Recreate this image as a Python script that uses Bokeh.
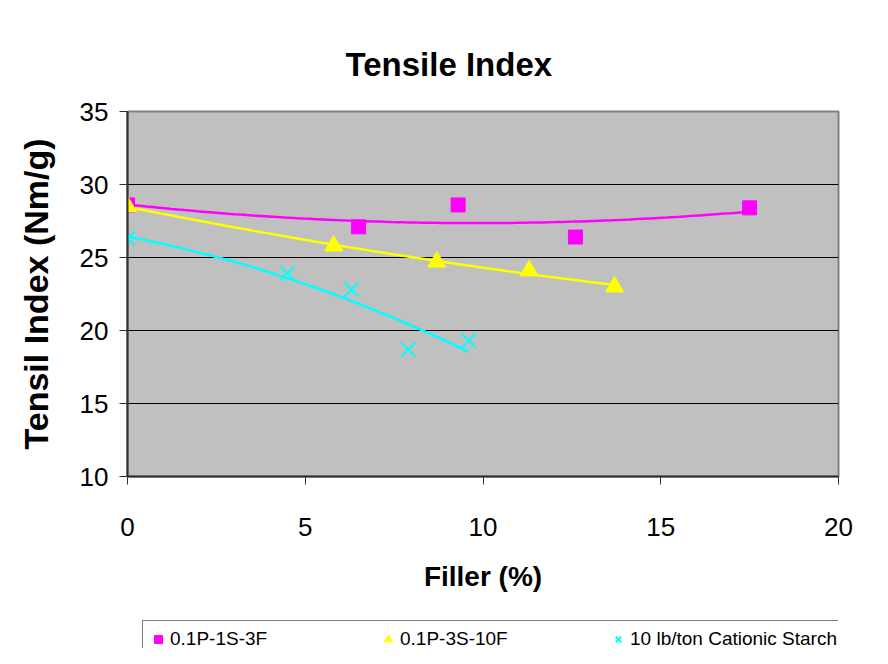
import numpy as np
from bokeh.plotting import figure
from bokeh.layouts import column
from bokeh.models import Legend, LegendItem, FixedTicker, Range1d
from bokeh.embed import file_html
from bokeh.resources import INLINE

# ---- data ----
s1_name = "0.1P-1S-3F"
s1_x = [0.0, 6.5, 9.3, 12.6, 17.5]
s1_y = [28.6, 27.1, 28.6, 26.4, 28.4]

s2_name = "0.1P-3S-10F"
s2_x = [0.0, 5.8, 8.7, 11.3, 13.7]
s2_y = [28.5, 25.8, 24.7, 24.1, 23.0]

s3_name = "10 lb/ton Cationic Starch"
s3_x = [0.0, 4.5, 6.3, 7.9, 9.6]
s3_y = [26.3, 23.9, 22.8, 18.7, 19.3]

x_ticks = [0, 5, 10, 15, 20]
y_ticks = [10, 15, 20, 25, 30, 35]

colors = ["#FF00FF", "#FFFF00", "#00FFFF"]
FONT = "'Liberation Sans', Arial, sans-serif"

p = figure(width=872, height=608, output_backend="svg", toolbar_location=None,
           x_range=Range1d(0, 20), y_range=Range1d(10, 35),
           min_border_left=127, min_border_right=34,
           min_border_top=111, min_border_bottom=132)

p.background_fill_color = "#C0C0C0"
p.border_fill_color = "white"
p.outline_line_color = "#808080"
p.outline_line_width = 2

# title
p.title.text = "Tensile Index"
p.title.align = "left"
p.title.offset = 218
p.title.text_font = FONT
p.title.text_font_size = "33px"
p.title.text_font_style = "bold"
p.title.text_color = "black"
p.title.standoff = 58

# grids
p.xgrid.visible = False
p.ygrid.ticker = FixedTicker(ticks=y_ticks)
p.ygrid.grid_line_color = "black"
p.ygrid.grid_line_width = 1

# axes
for ax in (p.xaxis[0], p.yaxis[0]):
    ax.axis_line_color = "#303030"
    ax.axis_line_width = 2
    ax.major_tick_line_color = "#303030"
    ax.major_tick_out = 8
    ax.major_tick_in = 0
    ax.minor_tick_line_color = None
    ax.major_label_text_font = FONT
    ax.major_label_text_font_size = "26px"
    ax.major_label_text_color = "black"
    ax.axis_label_text_color = "black"
    ax.axis_label_text_font_style = "bold"
    ax.axis_label_text_font = FONT

p.xaxis.ticker = FixedTicker(ticks=x_ticks)
p.yaxis.ticker = FixedTicker(ticks=y_ticks)
p.xaxis.major_label_standoff = 33
p.yaxis.major_label_standoff = 11
p.xaxis.axis_label = "Filler (%)"
p.xaxis.axis_label_text_font_size = "28px"
p.xaxis.axis_label_standoff = 22
p.yaxis.axis_label = "Tensil Index (Nm/g)"
p.yaxis.axis_label_text_font_size = "34px"
p.yaxis.axis_label_standoff = 22

# trendlines (2nd order polynomial fits, as the spreadsheet trendlines)
def trend(xs, ys):
    c = np.polyfit(xs, ys, 2)
    xx = np.linspace(min(xs), max(xs), 100)
    return xx, np.polyval(c, xx)

for xs, ys, col in ((s1_x, s1_y, colors[0]), (s2_x, s2_y, colors[1]), (s3_x, s3_y, colors[2])):
    tx, ty = trend(xs, ys)
    p.line(tx, ty, line_color=col, line_width=2.5)

def add_markers(fig, visible=True):
    a = fig.scatter(s1_x, s1_y, marker="square", size=14, fill_color=colors[0], line_color=colors[0], visible=visible)
    b = fig.scatter(s2_x, s2_y, marker="triangle", size=18, fill_color=colors[1], line_color=colors[1], visible=visible)
    c = fig.scatter(s3_x, s3_y, marker="x", size=20, line_color=colors[2], line_width=2, visible=visible)
    return a, b, c

add_markers(p)

# legend strip (its own small figure; its frame is aligned with the chart's frame)
p2 = figure(width=872, height=40, output_backend="svg", toolbar_location=None,
            x_range=Range1d(0, 20), y_range=Range1d(10, 35),
            x_axis_type=None, y_axis_type=None,
            min_border_left=0, min_border_right=0, min_border_top=0, min_border_bottom=0)
p2.outline_line_color = None
p2.grid.visible = False
p2.background_fill_color = "white"
p2.border_fill_color = "white"
l1, l2, l3 = add_markers(p2, visible=False)

legend = Legend(items=[LegendItem(label=s1_name, renderers=[l1]),
                       LegendItem(label=s2_name, renderers=[l2]),
                       LegendItem(label=s3_name, renderers=[l3])],
                orientation="horizontal", location=(15, -10))
legend.padding = 5
legend.margin = 0
legend.spacing = 12
legend.glyph_width = 20
legend.glyph_height = 26
legend.label_height = 18
legend.label_width = 196
legend.label_standoff = 2
legend.label_text_font = FONT
legend.label_text_font_size = "19px"
legend.label_text_color = "black"
legend.border_line_color = "black"
legend.border_line_width = 1
legend.background_fill_color = "white"
legend.background_fill_alpha = 1
legend.inactive_fill_alpha = 0
p2.add_layout(legend, "center")

layout = column(p, p2, spacing=0)
open("out.html", "w").write(file_html(layout, INLINE))
